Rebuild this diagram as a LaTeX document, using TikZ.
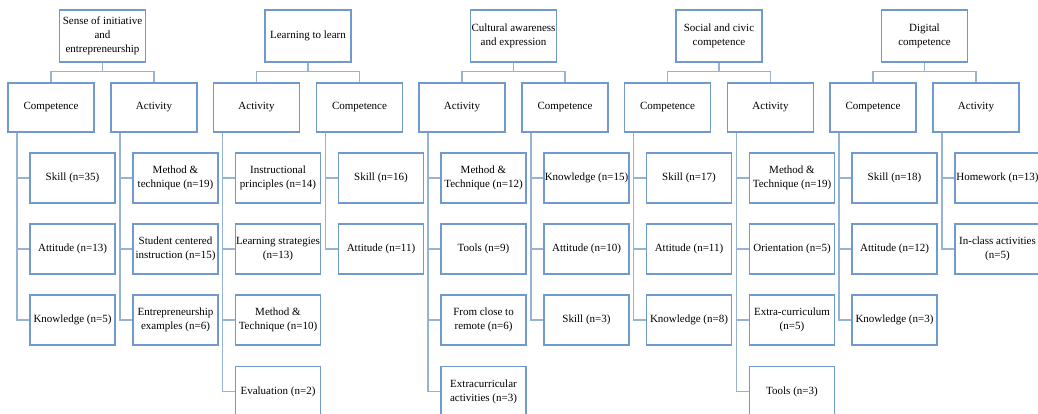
\documentclass[tikz,border=0pt]{standalone}
\usepackage{fontspec}
\setmainfont{Liberation Serif}
\definecolor{boxblue}{RGB}{112,153,206}
\definecolor{lineblue}{RGB}{149,179,215}

\begin{document}
\begin{tikzpicture}[x=1pt,y=-1pt,
	box/.style={draw=boxblue,line width=1.1pt,fill=white,align=center,inner sep=0pt,minimum width=85,minimum height=50,font=\fontsize{11}{14}\selectfont},
	topbox/.style={box,minimum width=86,minimum height=52},
	midbox/.style={box,minimum width=86,minimum height=49},
	link/.style={draw=lineblue,line width=1.4pt}]
	\useasboundingbox (0,0) rectangle (1038,414);
	% Sense of initiative and entrepreneurship
	\node[topbox] (sie) at (102.5,36) {Sense of initiative\\and\\entrepreneurship};
	\node[midbox] (sieC) at (51,107.5) {Competence};
	\node[midbox] (sieA) at (154,107.5) {Activity};
	\node[box] (sieC1) at (72.5,178) {Skill (n=35)};
	\node[box] (sieC2) at (72.5,249) {Attitude (n=13)};
	\node[box] (sieC3) at (72.5,320) {Knowledge (n=5)};
	\node[box] (sieA1) at (175.5,178) {Method \&\\technique (n=19)};
	\node[box] (sieA2) at (175.5,249) {Student centered\\instruction (n=15)};
	\node[box] (sieA3) at (175.5,320) {Entrepreneurship\\examples (n=6)};
	% Learning to learn
	\node[topbox] (ltl) at (308,36) {Learning to learn};
	\node[midbox] (ltlA) at (256.5,107.5) {Activity};
	\node[midbox] (ltlC) at (359.5,107.5) {Competence};
	\node[box] (ltlA1) at (278,178) {Instructional\\principles (n=14)};
	\node[box] (ltlA2) at (278,249) {Learning strategies\\(n=13)};
	\node[box] (ltlA3) at (278,320) {Method \&\\Technique (n=10)};
	\node[box] (ltlA4) at (278,391.5) {Evaluation (n=2)};
	\node[box] (ltlC1) at (381,178) {Skill (n=16)};
	\node[box] (ltlC2) at (381,249) {Attitude (n=11)};
	% Cultural awareness and expression
	\node[topbox] (cae) at (513.5,36) {Cultural awareness\\and expression};
	\node[midbox] (caeA) at (462,107.5) {Activity};
	\node[midbox] (caeC) at (565,107.5) {Competence};
	\node[box] (caeA1) at (483.5,178) {Method \&\\Technique (n=12)};
	\node[box] (caeA2) at (483.5,249) {Tools (n=9)};
	\node[box] (caeA3) at (483.5,320) {From close to\\remote (n=6)};
	\node[box] (caeA4) at (483.5,391.5) {Extracurricular\\activities (n=3)};
	\node[box] (caeC1) at (586.5,178) {Knowledge (n=15)};
	\node[box] (caeC2) at (586.5,249) {Attitude (n=10)};
	\node[box] (caeC3) at (586.5,320) {Skill (n=3)};
	% Social and civic competence
	\node[topbox] (scc) at (719,36) {Social and civic\\competence};
	\node[midbox] (sccC) at (667.5,107.5) {Competence};
	\node[midbox] (sccA) at (770.5,107.5) {Activity};
	\node[box] (sccC1) at (689,178) {Skill (n=17)};
	\node[box] (sccC2) at (689,249) {Attitude (n=11)};
	\node[box] (sccC3) at (689,320) {Knowledge (n=8)};
	\node[box] (sccA1) at (792,178) {Method \&\\Technique (n=19)};
	\node[box] (sccA2) at (792,249) {Orientation (n=5)};
	\node[box] (sccA3) at (792,320) {Extra-curriculum\\(n=5)};
	\node[box] (sccA4) at (792,391.5) {Tools (n=3)};
	% Digital competence
	\node[topbox] (dc) at (924.5,36) {Digital\\competence};
	\node[midbox] (dcC) at (873,107.5) {Competence};
	\node[midbox] (dcA) at (976,107.5) {Activity};
	\node[box] (dcC1) at (894.5,178) {Skill (n=18)};
	\node[box] (dcC2) at (894.5,249) {Attitude (n=12)};
	\node[box] (dcC3) at (894.5,320) {Knowledge (n=3)};
	\node[box] (dcA1) at (997.5,178) {Homework (n=13)};
	\node[box] (dcA2) at (997.5,249) {In-class activities\\(n=5)};
	% connectors
	\foreach \t/\l/\r in {sie/sieC/sieA,ltl/ltlA/ltlC,cae/caeA/caeC,scc/sccC/sccA,dc/dcC/dcA}{
		\draw[link] (\t.south) -- ++(0,9) -| (\l.north);
		\draw[link] (\t.south) -- ++(0,9) -| (\r.north);
	}
	\foreach \m/\k in {sieC/sieC1,sieC/sieC2,sieC/sieC3,sieA/sieA1,sieA/sieA2,sieA/sieA3,
		ltlA/ltlA1,ltlA/ltlA2,ltlA/ltlA3,ltlA/ltlA4,ltlC/ltlC1,ltlC/ltlC2,
		caeA/caeA1,caeA/caeA2,caeA/caeA3,caeA/caeA4,caeC/caeC1,caeC/caeC2,caeC/caeC3,
		sccC/sccC1,sccC/sccC2,sccC/sccC3,sccA/sccA1,sccA/sccA2,sccA/sccA3,sccA/sccA4,
		dcC/dcC1,dcC/dcC2,dcC/dcC3,dcA/dcA1,dcA/dcA2}
		\draw[link] ([xshift=-34pt]\m.south) |- (\k.west);
\end{tikzpicture}
\end{document}
